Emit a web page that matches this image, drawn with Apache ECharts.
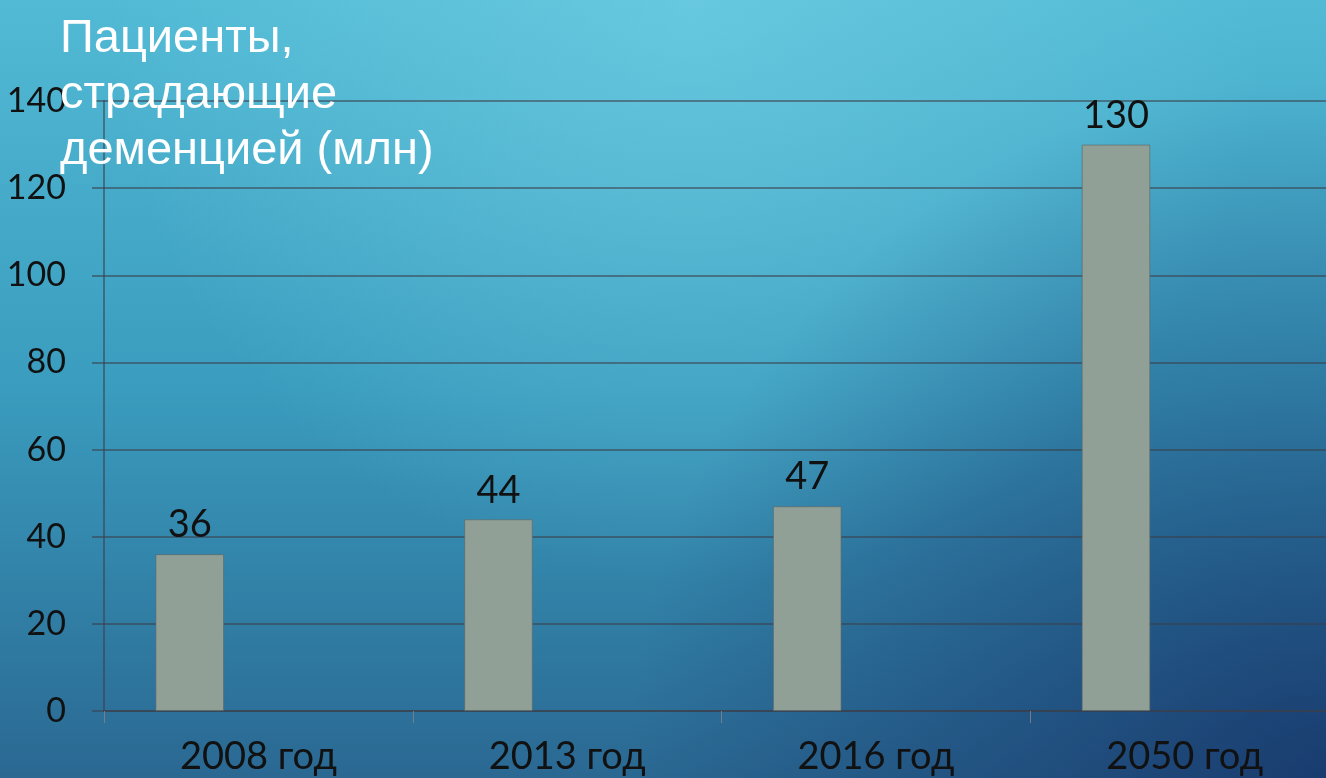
<!DOCTYPE html>
<html>
<head>
<meta charset="utf-8">
<script src="https://cdn.jsdelivr.net/npm/echarts@6/dist/echarts.min.js"></script>
<style>
html,body{margin:0;padding:0;overflow:hidden;width:1326px;height:778px;}
#chart{width:1339px;height:778px;}
</style>
</head>
<body>
<div id="chart"></div>
<script>
const categories = ['2008 год', '2013 год', '2016 год', '2050 год'];
const patients = [36, 44, 47, 130];
const emptySeriesA = [];
const emptySeriesB = [];
const titleText = 'Пациенты,\nстрадающие\nдеменцией (млн)';

const chart = echarts.init(document.getElementById('chart'));
const gridColor = 'rgba(58,62,72,0.55)';
const labelFont = 'Lato, "DejaVu Sans", sans-serif';

chart.setOption({
  backgroundColor: {
    type: 'linear', x: 0, y: 0, x2: 0, y2: 1,
    colorStops: [
      {offset: 0, color: '#52bad5'},
      {offset: 0.5, color: '#3a9cbe'},
      {offset: 1, color: '#2a6892'}
    ]
  },
  graphic: [
    {
      type: 'rect', z: -100, silent: true,
      shape: {x: 0, y: 0, width: 1326, height: 778},
      style: {
        fill: {
          type: 'radial', x: 0.52, y: 0, r: 0.75,
          colorStops: [
            {offset: 0, color: 'rgba(120,212,230,0.55)'},
            {offset: 1, color: 'rgba(120,212,230,0)'}
          ]
        }
      }
    },
    {
      type: 'rect', z: -99, silent: true,
      shape: {x: 0, y: 0, width: 1326, height: 778},
      style: {
        fill: {
          type: 'radial', x: 1, y: 1, r: 0.9,
          colorStops: [
            {offset: 0, color: 'rgba(16,36,92,0.65)'},
            {offset: 1, color: 'rgba(16,36,92,0)'}
          ]
        }
      }
    }
  ],
  title: {
    text: titleText,
    left: 55,
    top: 6,
    textStyle: {
      fontFamily: '"Liberation Sans", Arial, sans-serif',
      fontSize: 47,
      fontWeight: 'normal',
      color: '#ffffff',
      lineHeight: 56
    }
  },
  grid: {left: 104, right: 0, top: 101, bottom: 67, containLabel: false},
  xAxis: {
    type: 'category',
    data: categories,
    axisLine: {show: true, lineStyle: {color: gridColor, width: 2}},
    axisTick: {show: true, length: 12, alignWithLabel: false, lineStyle: {color: 'rgba(120,130,140,0.9)', width: 1}},
    axisLabel: {fontFamily: labelFont, fontSize: 38, color: '#111111', margin: 27}
  },
  yAxis: {
    type: 'value',
    min: 0, max: 140, interval: 20,
    axisLine: {show: true, lineStyle: {color: gridColor, width: 2}},
    axisTick: {show: true, length: 12, lineStyle: {color: gridColor, width: 2}},
    axisLabel: {fontFamily: labelFont, fontSize: 34, color: '#111111', margin: 38},
    splitLine: {show: true, lineStyle: {color: gridColor, width: 2}}
  },
  series: [
    {
      type: 'bar', data: patients,
      barGap: '0%', barCategoryGap: '33.3%',
      itemStyle: {color: '#90a096', borderColor: 'rgba(90,100,100,0.6)', borderWidth: 1},
      label: {show: true, position: 'top', distance: 10, fontFamily: labelFont, fontSize: 38, color: '#111111'}
    },
    {type: 'bar', data: emptySeriesA, barGap: '0%', barCategoryGap: '33.3%'},
    {type: 'bar', data: emptySeriesB, barGap: '0%', barCategoryGap: '33.3%'}
  ]
});
</script>
</body>
</html>
